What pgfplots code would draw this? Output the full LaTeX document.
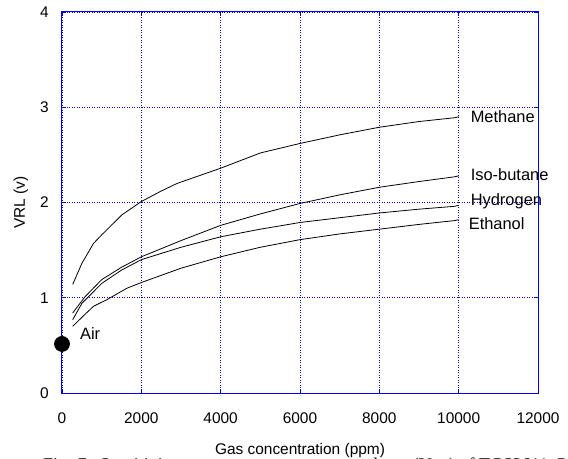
\documentclass[border=0pt]{standalone}
\usepackage{fontspec}
\setmainfont{Liberation Sans}
\newfontfamily\capfont{Liberation Serif}
\usepackage{pgfplots}
\pgfplotsset{compat=1.18}
\begin{document}
\fontsize{15.5}{18}\selectfont
\begin{tikzpicture}
\begin{axis}[
  scale only axis, width=476bp, height=381bp,
  xmin=0, xmax=12000, ymin=0, ymax=4,
  xtick={0,2000,4000,6000,8000,10000,12000},
  ytick={0,1,2,3,4},
  scaled x ticks=false,
  /pgf/number format/1000 sep={},
  /pgf/number format/assume math mode=true,
  grid=major,
  grid style={color=blue, dash pattern=on 1bp off 1.5bp, line width=0.6bp},
  major grid style={color=blue, dash pattern=on 1bp off 1.5bp, line width=0.6bp},
  axis line style={blue, line width=1bp},
  tick style={blue, line width=0.8bp},
  tick align=inside,
  major tick length=4bp,
  xticklabel style={yshift=-14bp},
  yticklabel style={xshift=-8bp},
  xlabel={Gas concentration (ppm)},
  ylabel={VRL (v)},
  xlabel style={at={([yshift=-58bp]rel axis cs:0.5,0)}, anchor=center},
  ylabel style={at={([xshift=-41bp]rel axis cs:0,0.5)}, anchor=center},
  clip=false,
  every axis plot/.append style={line width=0.8bp},
]
% Methane
\addplot[black] coordinates {
 (270,1.14) (500,1.36) (793,1.57) (1000,1.66) (1510,1.87) (2000,2.01)
 (2500,2.12) (2900,2.20) (4000,2.36) (5000,2.52) (6000,2.62) (7000,2.71)
 (8000,2.79) (9000,2.85) (9900,2.89) (10000,2.90)};
% Iso-butane
\addplot[black] coordinates {
 (270,0.84) (580,1.01) (1000,1.19) (1500,1.32) (2000,1.43) (3000,1.60)
 (4000,1.76) (5000,1.88) (6000,1.99) (7000,2.08) (8000,2.16) (9000,2.22)
 (9900,2.27) (10000,2.28)};
% Hydrogen
\addplot[black] coordinates {
 (270,0.77) (500,0.94) (1000,1.15) (1500,1.29) (2000,1.40) (3000,1.53)
 (4000,1.64) (5000,1.72) (6000,1.79) (7000,1.84) (8000,1.89) (9000,1.93)
 (9900,1.96) (10000,1.97)};
% Ethanol
\addplot[black] coordinates {
 (270,0.70) (540,0.81) (793,0.91) (1131,0.98) (1637,1.10) (2000,1.16)
 (3000,1.31) (4000,1.43) (5000,1.53) (6000,1.61) (7000,1.67) (8000,1.72)
 (9000,1.77) (9900,1.81) (10000,1.82)};
% Air
\addplot[only marks, mark=*, mark size=7.5bp, black] coordinates {(0,0.515)};
\node[anchor=west, inner sep=0pt, font=\fontsize{16.5}{19}\selectfont] at (axis cs:450,0.62) {Air};
\node[anchor=west, inner sep=0pt, font=\fontsize{16.5}{19}\selectfont] at (axis cs:10300,2.90) {Methane};
\node[anchor=west, inner sep=0pt, font=\fontsize{16.5}{19}\selectfont] at (axis cs:10300,2.29) {Iso-butane};
\node[anchor=west, inner sep=0pt, font=\fontsize{16.5}{19}\selectfont] at (axis cs:10300,2.01) {Hydrogen};
\node[anchor=west, inner sep=0pt, font=\fontsize{16.5}{19}\selectfont] at (axis cs:10250,1.78) {Ethanol};
\end{axis}
\node[anchor=base west, inner sep=0pt, font=\capfont\fontsize{18}{20}\selectfont] at (-19bp,-77bp)
  {Fig. 7.\ \ Sensitivity curves on sensor output voltage (V$_{RL}$) of TGS2611-C sensor};
\pgfresetboundingbox
\useasboundingbox (-62bp,-66bp) rectangle (506bp,393bp);
\end{tikzpicture}
\end{document}
